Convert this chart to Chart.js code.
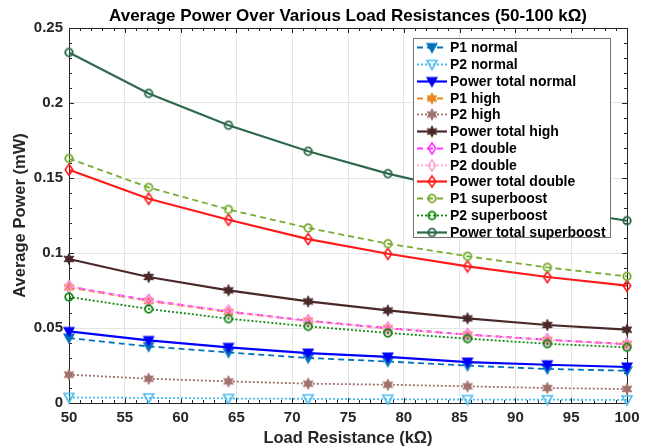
<!DOCTYPE html>
<html><head><meta charset="utf-8">
<script src="https://cdn.jsdelivr.net/npm/chart.js@4.4.1/dist/chart.umd.min.js"></script>
<style>html,body{margin:0;padding:0;background:#fff;} canvas{display:block;}</style>
</head><body>
<canvas id="c" width="652" height="447"></canvas>
<script>
// ---------- data ----------
const loadResistance = [50, 57.14, 64.29, 71.43, 78.57, 85.71, 92.86, 100];
const xTickValues = [50, 55, 60, 65, 70, 75, 80, 85, 90, 95, 100];
const xTickLabels = ['50', '55', '60', '65', '70', '75', '80', '85', '90', '95', '100'];
const yTickValues = [0, 0.05, 0.1, 0.15, 0.2, 0.25];
const yTickLabels = ['0', '0.05', '0.1', '0.15', '0.2', '0.25'];

const seriesNames = ['P1 normal', 'P2 normal', 'Power total normal', 'P1 high', 'P2 high', 'Power total high',
  'P1 double', 'P2 double', 'Power total double', 'P1 superboost', 'P2 superboost', 'Power total superboost'];

const p1Normal = [0.0433, 0.0377, 0.0337, 0.0300, 0.0277, 0.0249, 0.0227, 0.0215];
const p2Normal = [0.0037, 0.0034, 0.0030, 0.0028, 0.0025, 0.0023, 0.0022, 0.0021];
const totalNormal = [0.0477, 0.0417, 0.0371, 0.0333, 0.0307, 0.0273, 0.0255, 0.0240];
const p1High = [0.0771, 0.0680, 0.0606, 0.0549, 0.0498, 0.0456, 0.0421, 0.0393];
const p2High = [0.0189, 0.0162, 0.0144, 0.0129, 0.0122, 0.0111, 0.0100, 0.0093];
const totalHigh = [0.0960, 0.0840, 0.0751, 0.0677, 0.0617, 0.0564, 0.0520, 0.0489];
const p1Double = [0.0777, 0.0685, 0.0611, 0.0548, 0.0499, 0.0456, 0.0422, 0.0391];
const p2Double = [0.0778, 0.0681, 0.0611, 0.0545, 0.0497, 0.0455, 0.0420, 0.0391];
const totalDouble = [0.1555, 0.1362, 0.1222, 0.1093, 0.0995, 0.0911, 0.0840, 0.0782];
const p1Super = [0.1630, 0.1437, 0.1290, 0.1167, 0.1062, 0.0978, 0.0904, 0.0844];
const p2Super = [0.0707, 0.0627, 0.0562, 0.0511, 0.0467, 0.0429, 0.0395, 0.0371];
const totalSuper = [0.2337, 0.2064, 0.1852, 0.1678, 0.1529, 0.1407, 0.1299, 0.1215];

// ---------- styles ----------
const FONT = '"Liberation Sans", Arial, sans-serif';
const AXIS = '#262626';
const DASH = [6, 4], DOT = [2, 2], SOLID = [];

function marker(kind, stroke, fill, lw) {
  const S = 16, c = document.createElement('canvas');
  c.width = S; c.height = S;
  const g = c.getContext('2d');
  g.translate(S / 2, S / 2);
  g.lineWidth = lw; g.strokeStyle = stroke; g.fillStyle = fill || 'rgba(0,0,0,0)';
  g.lineJoin = 'miter';
  g.beginPath();
  if (kind === 'tri') {
    g.moveTo(-5, -4); g.lineTo(5, -4); g.lineTo(0, 5); g.closePath();
  } else if (kind === 'hex') {
    for (let i = 0; i < 12; i++) {
      const r = i % 2 ? 2.9 : 5.6, a = -Math.PI / 2 + i * Math.PI / 6;
      g.lineTo(r * Math.cos(a), r * Math.sin(a));
    }
    g.closePath();
  } else if (kind === 'dia') {
    g.moveTo(0, -5.5); g.lineTo(3.8, 0); g.lineTo(0, 5.5); g.lineTo(-3.8, 0); g.closePath();
  } else {
    g.arc(0, 0, 3.8, 0, Math.PI * 2);
  }
  if (fill) g.fill();
  g.stroke();
  return c;
}

const styleList = [
  { data: p1Normal, color: '#0072BD', dash: DASH, w: 1.8, pt: marker('tri', '#0072BD', '#0072BD', 1.2) },
  { data: p2Normal, color: '#4DBEEE', dash: DOT, w: 1.8, pt: marker('tri', '#4DBEEE', null, 1.6) },
  { data: totalNormal, color: '#0000FF', dash: SOLID, w: 2.2, pt: marker('tri', '#0000FF', '#0000FF', 1.2) },
  { data: p1High, color: '#E8871E', dash: DASH, w: 1.8, pt: marker('hex', '#E8871E', '#E8871E', 1) },
  { data: p2High, color: '#A1726B', dash: DOT, w: 1.8, pt: marker('hex', '#A1726B', '#A1726B', 1) },
  { data: totalHigh, color: '#4A2828', dash: SOLID, w: 2.2, pt: marker('hex', '#4A2828', '#4A2828', 1) },
  { data: p1Double, color: '#FF33FF', dash: DASH, w: 1.8, pt: marker('dia', '#FF33FF', null, 1.6) },
  { data: p2Double, color: '#FFA3D4', dash: DOT, w: 1.8, pt: marker('dia', '#FFA3D4', null, 1.6) },
  { data: totalDouble, color: '#FF1A1A', dash: SOLID, w: 2.2, pt: marker('dia', '#FF1A1A', null, 1.6) },
  { data: p1Super, color: '#77AC30', dash: DASH, w: 1.8, pt: marker('circ', '#77AC30', null, 1.8) },
  { data: p2Super, color: '#138A13', dash: DOT, w: 1.8, pt: marker('circ', '#138A13', null, 1.8) },
  { data: totalSuper, color: '#2D6A4C', dash: SOLID, w: 2.2, pt: marker('circ', '#2D6A4C', null, 1.8) },
];

const datasets = styleList.map((s, i) => ({
  label: seriesNames[i],
  data: s.data.map((v, k) => ({ x: loadResistance[k], y: v })),
  borderColor: s.color,
  backgroundColor: s.color,
  borderWidth: s.w,
  borderDash: s.dash,
  pointStyle: s.pt,
  pointRadius: 5,
  pointHoverRadius: 5,
  tension: 0,
  fill: false,
  clip: false,
  order: styleList.length - i,
}));

// ---------- decorations plugin ----------
const deco = {
  id: 'deco',
  beforeDraw(chart) {
    const ctx = chart.ctx;
    ctx.save(); ctx.fillStyle = '#fff'; ctx.fillRect(0, 0, chart.width, chart.height); ctx.restore();
  },
  beforeDatasetsDraw(chart) {
    const { ctx, chartArea: a, scales: { x, y } } = chart;
    ctx.save();
    ctx.strokeStyle = AXIS; ctx.lineWidth = 1;
    ctx.beginPath();
    for (let v = 50; v <= 100; v += 1) {
      const px = Math.round(x.getPixelForValue(v)) + 0.5;
      const len = (v % 5 === 0) ? 5 : 3;
      ctx.moveTo(px, a.bottom); ctx.lineTo(px, a.bottom - len);
      ctx.moveTo(px, a.top); ctx.lineTo(px, a.top + len);
    }
    for (let k = 0; k <= 25; k++) {
      const py = Math.round(y.getPixelForValue(k / 100)) + 0.5;
      const len = (k % 5 === 0) ? 5 : 3;
      ctx.moveTo(a.left, py); ctx.lineTo(a.left + len, py);
      ctx.moveTo(a.right, py); ctx.lineTo(a.right - len, py);
    }
    ctx.stroke();
    ctx.strokeRect(Math.round(a.left) + 0.5, Math.round(a.top) + 0.5, Math.round(a.right - a.left), Math.round(a.bottom - a.top));
    ctx.restore();
  },
  afterDraw(chart) {
    const { ctx, chartArea: a } = chart;
    ctx.save();
    ctx.fillStyle = '#000';
    ctx.font = 'bold 17px ' + FONT;
    ctx.textAlign = 'center'; ctx.textBaseline = 'middle';
    ctx.fillText('Average Power Over Various Load Resistances (50-100 kΩ)', (a.left + a.right) / 2, 16);
    ctx.fillStyle = AXIS;
    ctx.font = 'bold 16.5px ' + FONT;
    ctx.fillText('Load Resistance (kΩ)', (a.left + a.right) / 2, 438);
    ctx.save();
    ctx.translate(20, (a.top + a.bottom) / 2);
    ctx.rotate(-Math.PI / 2);
    ctx.fillText('Average Power (mW)', 0, 0);
    ctx.restore();

    const L = 413.5, T = 38.5, R = 610.5, B = 237.5;
    ctx.fillStyle = '#fff';
    ctx.fillRect(L, T, R - L, B - T);
    ctx.strokeStyle = '#707070'; ctx.lineWidth = 1;
    ctx.strokeRect(L, T, R - L, B - T);
    const rowH = 16.76;
    ctx.font = 'bold 14px ' + FONT;
    ctx.textAlign = 'left'; ctx.textBaseline = 'middle';
    styleList.forEach((s, i) => {
      const cy = Math.round(47.3 + i * rowH) + 0.5;
      ctx.save();
      ctx.strokeStyle = s.color; ctx.lineWidth = s.w; ctx.setLineDash(s.dash);
      ctx.beginPath(); ctx.moveTo(417, cy); ctx.lineTo(447, cy); ctx.stroke();
      ctx.restore();
      ctx.drawImage(s.pt, 432 - s.pt.width / 2, cy - s.pt.height / 2);
      ctx.fillStyle = '#000';
      ctx.fillText(seriesNames[i], 450, cy + 0.5);
    });
    ctx.restore();
  }
};

new Chart(document.getElementById('c'), {
  type: 'line',
  data: { datasets },
  options: {
    responsive: false,
    animation: false,
    events: [],
    layout: { padding: { top: 28, right: 25, left: 0, bottom: 0 } },
    plugins: { legend: { display: false }, title: { display: false }, tooltip: { enabled: false } },
    scales: {
      x: {
        type: 'linear', min: 50, max: 100,
        afterBuildTicks: s => { s.ticks = xTickValues.map(v => ({ value: v })); },
        afterFit: s => { s.height = 44; },
        ticks: {
          callback: (v, i) => xTickLabels[i],
          font: { family: FONT, size: 15, weight: 'bold' },
          color: AXIS, padding: 6, maxRotation: 0, autoSkip: false,
        },
        grid: { color: '#e4e4e4', drawTicks: false },
        border: { display: false },
      },
      y: {
        type: 'linear', min: 0, max: 0.25,
        afterBuildTicks: s => { s.ticks = yTickValues.map(v => ({ value: v })); },
        afterFit: s => { s.width = 69; },
        ticks: {
          callback: (v, i) => yTickLabels[i],
          font: { family: FONT, size: 15, weight: 'bold' },
          color: AXIS, padding: 6, autoSkip: false,
        },
        grid: { color: '#e4e4e4', drawTicks: false },
        border: { display: false },
      }
    }
  },
  plugins: [deco]
});
</script>
</body></html>
